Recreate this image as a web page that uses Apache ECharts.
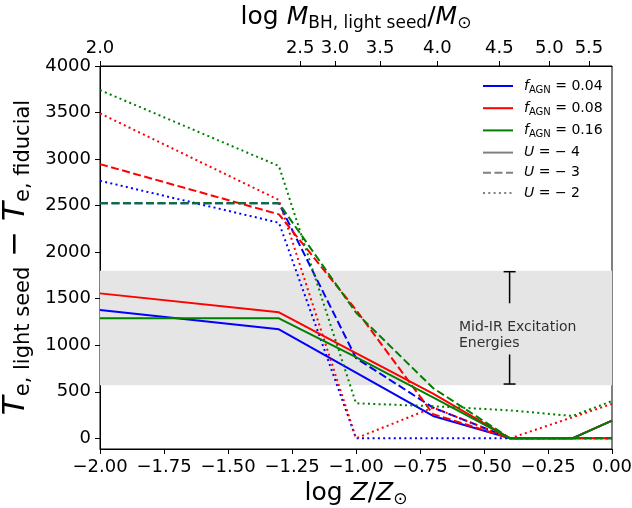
<!DOCTYPE html>
<html><head><meta charset="utf-8">
<script src="https://cdn.jsdelivr.net/npm/echarts@6/dist/echarts.min.js"></script>
<style>html,body{margin:0;padding:0;background:#fff}#c{width:632px;height:508px}</style>
</head><body><div id="c"></div>
<script>
// ---- data ----
const logZ = [-2, -1.301, -1, -0.699, -0.398, -0.155, 0];
const blueU4  = [1378, 1171, 705, 240, 0, 0, 190];
const redU4   = [1557, 1353, 915, 480, 0, 0, 190];
const greenU4 = [1289, 1289, 873, 440, 0, 0, 189];
const blueU3  = [2525, 2525, 862, 330, 0, 0, 0];
const redU3   = [2946, 2406, 1380, 260, 0, 0, 0];
const greenU3 = [2525, 2525, 1350, 540, 0, 0, 0];
const blueU2  = [2767, 2316, 0, 0, 0, 0, 0];
const redU2   = [3491, 2560, 0, 330, 0, 225, 370];
const greenU2 = [3741, 2925, 376, 345, 300, 240, 400];
const xTicks = [-2, -1.75, -1.5, -1.25, -1, -0.75, -0.5, -0.25, 0];
const yTicks = [0, 500, 1000, 1500, 2000, 2500, 3000, 3500, 4000];
const topTickPos = [-2.0, -1.218, -1.082, -0.906, -0.682, -0.440, -0.245, -0.090];
const topTickLabels = ['2.0', '2.5', '3.0', '3.5', '4.0', '4.5', '5.0', '5.5'];
const fLabels = ['0.04', '0.08', '0.16'];
const uLabels = ['− 4', '− 3', '− 2'];
const bandRange = [570, 1800];
const ibarX = -0.4;
const ibarUpper = [1790, 1450];
const ibarLower = [900, 583];
const annotPos = [-0.598, 1110];
const annotText = 'Mid-IR Excitation\nEnergies';

// ---- styling ----
const FONT = 'DejaVu Sans';
const colors = ['#0000ff', '#ff0000', '#008000'];
const dashes = ['solid', [8, 3.5], [2, 3.3]];
const table = [[blueU4, blueU3, blueU2], [redU4, redU3, redU2], [greenU4, greenU3, greenU2]];

const series = [];
series.push({
  type: 'line', name: 'band', data: [], z: 1, silent: true,
  markArea: { silent: true, itemStyle: { color: '#e5e5e5' },
    data: [[{ yAxis: bandRange[0] }, { yAxis: bandRange[1] }]] }
});
table.forEach((rows, fi) => {
  rows.forEach((vals, ui) => {
    series.push({
      type: 'line', name: 'f' + fLabels[fi],
      data: logZ.map((x, i) => [x, vals[i]]),
      symbol: 'none', z: 3,
      lineStyle: { color: colors[fi], width: 2, type: dashes[ui], cap: 'butt' },
      itemStyle: { color: colors[fi] }
    });
  });
});
uLabels.forEach((u, ui) => {
  series.push({
    type: 'line', name: 'U' + u, data: [], symbol: 'none',
    lineStyle: { color: '#808080', width: 2, type: dashes[ui], cap: 'butt' },
    itemStyle: { color: '#808080' }
  });
});
const capSym = { symbol: 'rect', symbolSize: [12, 1.5] };
series.push({
  type: 'line', data: [Object.assign({ value: [ibarX, ibarUpper[0]] }, capSym), { value: [ibarX, ibarUpper[1]], symbol: 'none' }],
  showSymbol: true, lineStyle: { color: '#000', width: 1.5 }, itemStyle: { color: '#000' }, z: 4, silent: true
});
series.push({
  type: 'line', data: [{ value: [ibarX, ibarLower[0]], symbol: 'none' }, Object.assign({ value: [ibarX, ibarLower[1]] }, capSym)],
  showSymbol: true, lineStyle: { color: '#000', width: 1.5 }, itemStyle: { color: '#000' }, z: 4, silent: true
});
series.push({
  type: 'scatter', data: [annotPos], symbolSize: 0, silent: true, z: 4,
  label: { show: true, position: [0, 0], align: 'left', verticalAlign: 'middle',
    formatter: annotText, fontFamily: FONT, fontSize: 14, lineHeight: 16, color: '#000' }
});

const legendNames = fLabels.map(f => 'f' + f).concat(uLabels.map(u => 'U' + u));
function legendFmt(name) {
  if (name[0] === 'f') return '{i0|f}{s|AGN}{n| = ' + name.slice(1) + '}';
  return '{i0|U}{n| = ' + name.slice(1) + '}';
}

const tickLabelStyle = { fontFamily: FONT, fontSize: 18, color: '#000' };
const subStyle = (fs, lh) => ({ fontFamily: FONT, fontSize: fs, lineHeight: lh, verticalAlign: 'bottom', color: '#000' });

const option = {
  animation: false,
  backgroundColor: '#fff',
  grid: { left: 100, right: 20, top: 66, bottom: 59, show: true, borderColor: '#000', borderWidth: 1, containLabel: false, outerBoundsMode: 'none' },
  legend: {
    data: legendNames, orient: 'vertical', left: 482, top: 79, padding: 0,
    itemWidth: 30, itemHeight: 14, itemGap: 6.2,
    itemStyle: { opacity: 0 },
    formatter: legendFmt,
    textStyle: { fontFamily: FONT, fontSize: 14, color: '#000',
      rich: {
        i0: { fontFamily: FONT, fontSize: 14, fontStyle: 'italic', lineHeight: 18, padding: [0, 0, 0, 6], color: '#000' },
        s: subStyle(10, 12),
        n: { fontFamily: FONT, fontSize: 14, lineHeight: 18, color: '#000' }
      } }
  },
  xAxis: [{
    type: 'value', min: -2, max: 0, position: 'bottom',
    splitLine: { show: false },
    axisLine: { show: true, onZero: false, lineStyle: { color: '#000', width: 1 } },
    axisTick: { show: true, customValues: xTicks, length: 5, lineStyle: { color: '#000' } },
    axisLabel: Object.assign({ customValues: xTicks, margin: 9,
      formatter: v => v.toFixed(2).replace('-', '−') }, tickLabelStyle),
    name: '{n|log }{i|Z}{n|/}{i|Z}{s|⊙}', nameLocation: 'middle', nameGap: 24,
    nameTextStyle: { rich: {
      n: { fontFamily: FONT, fontSize: 25, lineHeight: 30, color: '#000' },
      i: { fontFamily: FONT, fontSize: 25, fontStyle: 'italic', lineHeight: 30, color: '#000' },
      s: subStyle(17, 17) } }
  }, {
    type: 'value', min: -2, max: 0, position: 'top',
    splitLine: { show: false },
    axisLine: { show: true, onZero: false, lineStyle: { color: '#000', width: 1 } },
    axisTick: { show: true, customValues: topTickPos, length: 5, lineStyle: { color: '#000' } },
    axisLabel: Object.assign({ customValues: topTickPos, margin: 9,
      formatter: v => { const i = topTickPos.findIndex(p => Math.abs(p - v) < 1e-6); return i >= 0 ? topTickLabels[i] : ''; } }, tickLabelStyle),
    name: '{n|log }{i|M}{s|BH, light seed}{n|/}{i|M}{s|⊙}', nameLocation: 'middle', nameGap: 34,
    nameTextStyle: { rich: {
      n: { fontFamily: FONT, fontSize: 25, lineHeight: 30, color: '#000' },
      i: { fontFamily: FONT, fontSize: 25, fontStyle: 'italic', lineHeight: 30, color: '#000' },
      s: subStyle(17, 17) } }
  }],
  yAxis: {
    type: 'value', min: -115, max: 4000,
    splitLine: { show: false },
    axisLine: { show: true, onZero: false, lineStyle: { color: '#000', width: 1 } },
    axisTick: { show: true, customValues: yTicks, length: 5, lineStyle: { color: '#000' } },
    axisLabel: Object.assign({ customValues: yTicks, margin: 9, formatter: v => String(v) }, tickLabelStyle),
    name: '{i|T}{s|e, light seed}{n| − }{i|T}{s|e, fiducial}', nameLocation: 'middle', nameRotate: 90, nameGap: 51,
    nameTextStyle: { rich: {
      n: { fontFamily: FONT, fontSize: 31, lineHeight: 36, color: '#000' },
      i: { fontFamily: FONT, fontSize: 31, fontStyle: 'italic', lineHeight: 36, color: '#000' },
      s: subStyle(21, 21) } }
  },
  series: series
};
const chart = echarts.init(document.getElementById('c'), null, { renderer: 'canvas' });
chart.setOption(option);
</script>
</body></html>
